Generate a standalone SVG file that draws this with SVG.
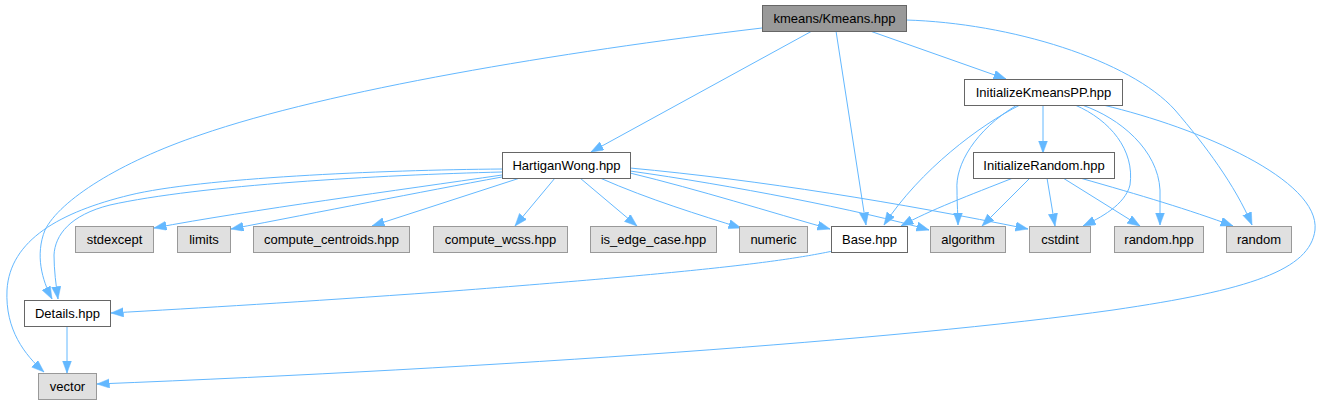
<svg xmlns="http://www.w3.org/2000/svg" width="1323" height="405" viewBox="0 0 1323 405">
<style>
  .n rect { fill: #ffffff; stroke: #666666; stroke-width: 1; }
  .s rect { fill: #e0e0e0; stroke: #999999; stroke-width: 1; }
  .r rect { fill: #999999; stroke: #666666; stroke-width: 1; }
  text { font-family: "Liberation Sans", Arial, Helvetica, sans-serif; font-size: 13px; fill: #000000; text-anchor: middle; }
  .e path { fill: none; stroke: #63b8ff; stroke-width: 1; marker-end: url(#arr); }
</style>
<defs>
  <marker id="arr" markerUnits="userSpaceOnUse" markerWidth="14" markerHeight="10" refX="12.5" refY="4.6" orient="auto">
    <path d="M0,0 L12.5,4.6 L0,9.2 z" fill="#63b8ff" stroke="#63b8ff" stroke-width="0.5"/>
  </marker>
</defs>
<rect width="1323" height="405" fill="#ffffff"/>
<g id="edges" class="e">
  <!-- Kmeans -->
  <path d="M812,31 L591,152"/>
  <path d="M836,31 L866,225"/>
  <path d="M870,31 L1006,79"/>
  <path d="M906,20 C1010,23 1130,60 1175,110 C1205,145 1235,185 1252,225"/>
  <path d="M762,28 C560,52 330,90 200,135 C120,162 60,200 45,230 C35,255 42,280 52,299"/>
  <!-- HartiganWong -->
  <path d="M502,169 C380,170 200,178 130,195 C60,212 10,240 7,290 C5,330 25,355 44,372"/>
  <path d="M502,172 C380,175 200,185 110,205 C70,215 55,235 54,255 C54,270 56,285 58,299"/>
  <path d="M502,175 C400,190 250,210 154,228"/>
  <path d="M502,177 C420,192 320,212 231,229"/>
  <path d="M520,178 L372,226"/>
  <path d="M555,178 L515,226"/>
  <path d="M580,178 L637,226"/>
  <path d="M600,178 C650,200 700,215 741,228"/>
  <path d="M630,173 C700,190 770,212 830,229"/>
  <path d="M630,171 C730,185 860,210 929,230"/>
  <path d="M630,168 C760,180 900,203 1028,229"/>
  <!-- InitializeKmeansPP -->
  <path d="M1043,105 L1043,153"/>
  <path d="M1020,105 C980,125 920,170 884,225"/>
  <path d="M1017,105 C975,130 955,165 957,190 C957,205 958,215 958,225"/>
  <path d="M1075,105 C1110,120 1135,150 1130,185 C1125,205 1100,218 1083,226"/>
  <path d="M1082,105 C1120,118 1158,150 1160,190 L1160,225"/>
  <path d="M1103,105 C1200,128 1320,180 1315,230 C1310,270 1250,290 1113,310 C900,340 500,368 97,384"/>
  <!-- InitializeRandom -->
  <path d="M1013,178 C970,195 930,210 901,226"/>
  <path d="M1030,178 L982,226"/>
  <path d="M1047,178 L1055,226"/>
  <path d="M1063,178 L1140,226"/>
  <path d="M1080,178 C1140,195 1190,210 1233,226"/>
  <!-- Base / Details -->
  <path d="M833,251 C780,262 700,272 440,292 C300,302 200,308 111,313"/>
  <path d="M67,326 L67,373"/>
</g>
<g id="kmeans" class="r"><rect x="762.5" y="5.5" width="144" height="26"/><text x="834.5" y="23">kmeans/Kmeans.hpp</text></g>
<g id="initkpp" class="n"><rect x="964.5" y="79.5" width="158" height="26"/><text x="1043.5" y="97">InitializeKmeansPP.hpp</text></g>
<g id="hartigan" class="n"><rect x="502.5" y="152.5" width="128" height="26"/><text x="566.5" y="170">HartiganWong.hpp</text></g>
<g id="initrandom" class="n"><rect x="973.5" y="152.5" width="141" height="26"/><text x="1044" y="170">InitializeRandom.hpp</text></g>
<g id="stdexcept" class="s"><rect x="75.5" y="226.5" width="78" height="26"/><text x="114.5" y="244">stdexcept</text></g>
<g id="limits" class="s"><rect x="177.5" y="226.5" width="53" height="26"/><text x="204" y="244">limits</text></g>
<g id="centroids" class="s"><rect x="253.5" y="226.5" width="156" height="26"/><text x="331.5" y="244">compute_centroids.hpp</text></g>
<g id="wcss" class="s"><rect x="433.5" y="226.5" width="134" height="26"/><text x="500.5" y="244">compute_wcss.hpp</text></g>
<g id="edgecase" class="s"><rect x="590.5" y="226.5" width="126" height="26"/><text x="653.5" y="244">is_edge_case.hpp</text></g>
<g id="numeric" class="s"><rect x="739.5" y="226.5" width="68" height="26"/><text x="773.5" y="244">numeric</text></g>
<g id="base" class="n"><rect x="831.5" y="226.5" width="76" height="26"/><text x="869.5" y="244">Base.hpp</text></g>
<g id="algorithm" class="s"><rect x="930.5" y="226.5" width="75" height="26"/><text x="968" y="244">algorithm</text></g>
<g id="cstdint" class="s"><rect x="1029.5" y="226.5" width="61" height="26"/><text x="1060" y="244">cstdint</text></g>
<g id="randomhpp" class="s"><rect x="1114.5" y="226.5" width="89" height="26"/><text x="1159" y="244">random.hpp</text></g>
<g id="random" class="s"><rect x="1226.5" y="226.5" width="65" height="26"/><text x="1259" y="244">random</text></g>
<g id="details" class="n"><rect x="24.5" y="300.5" width="86" height="26"/><text x="67.5" y="318">Details.hpp</text></g>
<g id="vector" class="s"><rect x="38.5" y="373.5" width="58" height="26"/><text x="67.5" y="391">vector</text></g>
</svg>
